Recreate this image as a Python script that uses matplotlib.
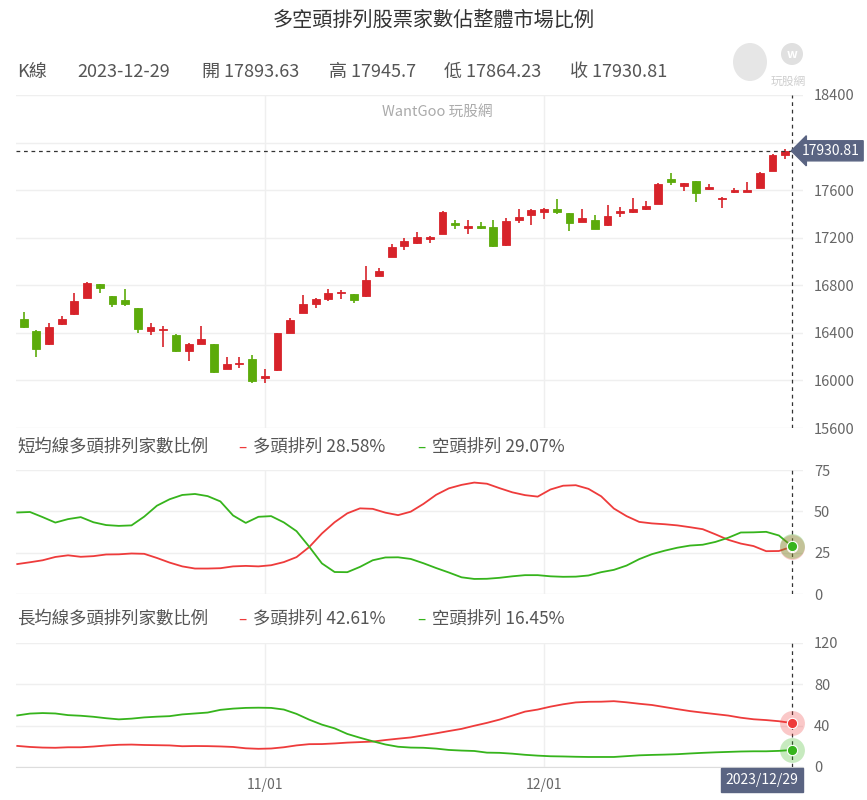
import numpy as np
import matplotlib
matplotlib.use("Agg")
import matplotlib.pyplot as plt
import matplotlib.transforms as mtransforms
from matplotlib.patches import Ellipse

plt.rcParams["font.family"] = ["Noto Sans CJK TC", "DejaVu Sans"]

# ---- data ----
# K線: 2023-10-02 ~ 2023-12-29
opens = [16518, 16417, 16307, 16476, 16558, 16693, 16811, 16706, 16676, 16605,
         16414, 16422, 16385, 16248, 16310, 16304, 16099, 16136, 16178, 16017,
         16087, 16402, 16571, 16642, 16684, 16731, 16726, 16706, 16881, 17039,
         17131, 17153, 17191, 17233, 17326, 17283, 17300, 17289, 17136, 17345,
         17390, 17418, 17444, 17404, 17334, 17353, 17305, 17410, 17415, 17438,
         17486, 17694, 17638, 17677, 17607, 17522, 17587, 17587, 17618, 17765,
         17893.63]
highs = [16574, 16420, 16482, 16543, 16731, 16825, 16815, 16710, 16771, 16610,
         16482, 16461, 16390, 16315, 16461, 16310, 16200, 16200, 16212, 16093,
         16400, 16524, 16718, 16690, 16771, 16763, 16730, 16959, 16946, 17145,
         17199, 17249, 17218, 17427, 17348, 17345, 17334, 17353, 17362, 17444,
         17440, 17446, 17522, 17410, 17438, 17387, 17472, 17457, 17531, 17511,
         17663, 17748, 17663, 17680, 17655, 17540, 17621, 17672, 17752, 17908,
         17945.7]
lows = [16440, 16200, 16300, 16470, 16550, 16690, 16735, 16617, 16622, 16400,
        16380, 16279, 16240, 16161, 16305, 16065, 16095, 16102, 15975, 15975,
        16080, 16400, 16565, 16608, 16670, 16684, 16647, 16700, 16875, 17035,
        17098, 17150, 17159, 17228, 17275, 17233, 17275, 17125, 17130, 17326,
        17311, 17359, 17398, 17255, 17330, 17270, 17300, 17376, 17407, 17435,
        17480, 17643, 17592, 17503, 17600, 17449, 17579, 17585, 17615, 17760,
        17864.23]
closes = [16448, 16267, 16448, 16520, 16667, 16822, 16777, 16642, 16639, 16434,
          16448, 16436, 16245, 16304, 16352, 16073, 16136, 16150, 15997, 16034,
          16397, 16510, 16642, 16684, 16737, 16746, 16676, 16841, 16917, 17123,
          17174, 17204, 17210, 17413, 17309, 17294, 17283, 17131, 17342, 17376,
          17435, 17438, 17418, 17326, 17362, 17275, 17381, 17421, 17444, 17466,
          17655, 17668, 17657, 17575, 17630, 17537, 17604, 17604, 17748, 17894,
          17930.81]

# 短均線多頭/空頭排列家數比例 (%)
short_bull = [18.1, 19.2, 20.4, 22.4, 23.4, 22.5, 22.9, 23.9, 24.0, 24.5,
              24.3, 21.8, 19.0, 16.7, 15.4, 15.4, 15.6, 16.7, 17.0, 16.7,
              17.4, 19.3, 22.3, 28.4, 36.6, 43.4, 48.8, 51.8, 51.5, 49.2,
              47.7, 49.8, 54.5, 60.0, 63.9, 66.0, 67.4, 66.7, 64.0, 61.5,
              59.8, 58.9, 63.2, 65.5, 65.8, 63.6, 59.1, 51.7, 47.1, 43.6,
              42.7, 42.2, 41.5, 40.4, 39.2, 36.1, 32.8, 30.5, 29.0, 25.9,
              26.0, 28.58]
short_bear = [49.3, 49.6, 46.5, 43.2, 45.3, 46.5, 43.4, 41.7, 41.2, 41.5,
              46.8, 53.4, 57.3, 59.9, 60.5, 59.2, 56.0, 47.5, 43.0, 46.7,
              47.1, 43.3, 38.0, 28.6, 18.5, 13.3, 13.2, 16.4, 20.4, 22.1,
              22.2, 21.2, 18.6, 15.7, 13.0, 10.1, 9.1, 9.2, 9.8, 10.7,
              11.4, 11.4, 10.7, 10.4, 10.5, 11.2, 13.2, 14.6, 17.2, 21.1,
              24.1, 26.2, 28.0, 29.3, 29.8, 31.5, 34.0, 37.2, 37.3, 37.6,
              35.4, 29.07]

# 長均線多頭/空頭排列家數比例 (%)
long_bull = [20.4, 19.4, 18.8, 18.6, 19.1, 19.1, 19.8, 20.8, 21.5, 21.7,
             21.3, 21.1, 20.9, 20.1, 20.3, 20.2, 19.9, 19.4, 18.1, 17.6,
             17.9, 19.1, 20.9, 22.1, 22.2, 22.8, 23.6, 24.1, 24.6, 26.1,
             27.4, 28.6, 30.6, 32.6, 34.8, 36.9, 39.9, 42.7, 45.9, 49.7,
             53.6, 55.6, 58.4, 60.7, 62.5, 63.1, 63.2, 63.7, 62.6, 61.2,
             60.0, 58.0, 56.0, 54.1, 52.6, 51.2, 49.8, 47.7, 46.2, 45.4,
             44.3, 42.61]
long_bear = [49.9, 51.7, 52.2, 51.8, 50.2, 49.6, 48.6, 47.2, 46.1, 46.8,
             48.0, 48.7, 49.2, 50.9, 51.8, 52.7, 55.3, 56.5, 57.2, 57.4,
             57.2, 55.6, 51.4, 45.8, 41.0, 37.4, 32.0, 28.3, 24.9, 21.8,
             19.6, 18.8, 18.6, 17.8, 16.5, 15.9, 15.5, 13.9, 13.7, 12.9,
             11.8, 11.0, 10.4, 10.2, 9.9, 9.7, 9.7, 9.7, 10.5, 11.3,
             11.7, 12.0, 12.4, 13.1, 13.7, 14.2, 14.6, 15.0, 15.2, 15.2,
             15.6, 16.45]

month_ticks = [19, 41]
month_labels = ["11/01", "12/01"]
last_date = "2023-12-29"
k_yticks = [15600, 16000, 16400, 16800, 17200, 17600, 18000, 18400]
s_yticks = [0, 25, 50, 75]
l_yticks = [0, 40, 80, 120]

# ---- style ----
UP = "#d7232a"; DOWN = "#5cab0b"
LRED = "#ee3b3b"; LGREEN = "#36b41c"
GRID = "#efefef"; TXT = "#555555"; TAG = "#5a6482"

W, H = 867, 800
fig = plt.figure(figsize=(W / 100, H / 100), dpi=100)
fig.patch.set_facecolor("white")


def px_ax(l, t, r, b):
    return fig.add_axes([l / W, 1 - b / H, (r - l) / W, (b - t) / H])


def fx(x): return x / W
def fy(y): return 1 - y / H


n = len(closes)
xk = np.arange(n)
xl = np.arange(len(short_bull)) - 0.5
xlim = (-0.6, 61.4)
cross_x = xl[-1]

# title + header
fig.text(0.5, fy(20), "多空頭排列股票家數佔整體市場比例", ha="center", va="center",
         fontsize=14.5, color="#333333")
head = [("K線", 17), (last_date, 77), (f"開 {opens[-1]}", 202), (f"高 {highs[-1]}", 329),
        (f"低 {lows[-1]}", 444), (f"收 {closes[-1]}", 570)]
for s, x in head:
    fig.text(fx(x), fy(72), s, ha="left", va="center", fontsize=13, color=TXT)

# logo (rough)
fig.patches.append(Ellipse((fx(750), fy(62)), 34 / W, 38 / H, transform=fig.transFigure,
                           fc="#e6e6e6", ec="none"))
fig.patches.append(Ellipse((fx(792), fy(54)), 22 / W, 22 / H, transform=fig.transFigure,
                           fc="#e0e0e0", ec="none"))
fig.text(fx(792), fy(54), "w", ha="center", va="center", fontsize=9, color="white",
         fontweight="bold")
fig.text(fx(788), fy(81), "玩股網", ha="center", va="center", fontsize=8.5, color="#cfcfcf")


def base_style(ax, yticks, ylim):
    ax.set_xlim(*xlim)
    ax.set_ylim(*ylim)
    for sp in ax.spines.values():
        sp.set_visible(False)
    ax.yaxis.tick_right()
    ax.set_yticks(yticks)
    ax.tick_params(axis="y", length=0, pad=8, labelsize=10.5, labelcolor="#666666")
    ax.set_xticks(month_ticks)
    ax.tick_params(axis="x", length=0)
    ax.set_xticklabels([])
    ax.grid(True, color=GRID, lw=1.0)
    ax.set_axisbelow(True)
    ax.axvline(cross_x, color="#333333", lw=0.9, ls=(0, (3, 3)), zorder=5)


# ---- K panel ----
ax_k = px_ax(16, 95, 803, 428)
base_style(ax_k, k_yticks, (15600, 18400))
ax_k.set_yticklabels(["" if t == 18000 else str(t) for t in k_yticks])
for i in range(n):
    o, h, l, c = opens[i], highs[i], lows[i], closes[i]
    col = UP if c >= o else DOWN
    ax_k.vlines(xk[i], l, h, color=col, lw=1.2, zorder=3)
    ax_k.bar(xk[i], max(abs(c - o), 12), bottom=min(o, c), width=0.62, color=col,
             edgecolor=col, lw=0.6, zorder=4)
ax_k.axhline(closes[-1], color="#333333", lw=0.9, ls=(0, (3, 3)), zorder=5)
ax_k.text(0.535, 0.95, "WantGoo 玩股網", transform=ax_k.transAxes, ha="center",
          va="center", fontsize=10.5, color="#aaaaaa")
trans = mtransforms.blended_transform_factory(ax_k.transAxes, ax_k.transData)
ax_k.text(0.999, closes[-1], f"{closes[-1]:.2f}", transform=trans, ha="left", va="center",
          fontsize=10, color="white", zorder=10, clip_on=False,
          bbox=dict(boxstyle="larrow,pad=0.22", fc=TAG, ec=TAG))

# ---- short MA panel ----
ax_s = px_ax(16, 470, 803, 594)
base_style(ax_s, s_yticks, (0, 75))
ax_s.plot(xl, short_bull, color=LRED, lw=1.3, zorder=3)
ax_s.plot(xl, short_bear, color=LGREEN, lw=1.3, zorder=3)

# ---- long MA panel ----
ax_l = px_ax(16, 643, 803, 767)
base_style(ax_l, l_yticks, (0, 120))
ax_l.plot(xl, long_bull, color=LRED, lw=1.3, zorder=3)
ax_l.plot(xl, long_bear, color=LGREEN, lw=1.3, zorder=3)
ax_l.set_xticklabels(month_labels)
ax_l.tick_params(axis="x", labelsize=10, labelcolor="#666666", pad=8)
ax_l.spines["bottom"].set_visible(True)
ax_l.spines["bottom"].set_color("#dddddd")

for ax, bull, bear in [(ax_s, short_bull, short_bear), (ax_l, long_bull, long_bear)]:
    for vals, col in [(bull, LRED), (bear, LGREEN)]:
        ax.scatter([xl[-1]], [vals[-1]], s=320, color=col, alpha=0.28, lw=0,
                   zorder=6, clip_on=False)
    for vals, col in [(bull, LRED), (bear, LGREEN)]:
        ax.scatter([xl[-1]], [vals[-1]], s=55, color=col, edgecolor="white", lw=0.8,
                   zorder=7, clip_on=False)

# panel titles with legend
for y, title, bull, bear in [(447, "短均線多頭排列家數比例", short_bull, short_bear),
                             (619, "長均線多頭排列家數比例", long_bull, long_bear)]:
    fig.text(fx(17), fy(y), title, ha="left", va="center", fontsize=12.5, color=TXT)
    fig.text(fx(242), fy(y), "–", ha="center", va="center", fontsize=11, color=LRED)
    fig.text(fx(253), fy(y), f"多頭排列 {bull[-1]:.2f}%", ha="left", va="center",
             fontsize=12.5, color=TXT)
    fig.text(fx(421), fy(y), "–", ha="center", va="center", fontsize=11, color=LGREEN)
    fig.text(fx(432), fy(y), f"空頭排列 {bear[-1]:.2f}%", ha="left", va="center",
             fontsize=12.5, color=TXT)

# date tag under crosshair
fig.text(fx(762), fy(780), last_date.replace("-", "/"), ha="center", va="center",
         fontsize=10, color="white", zorder=10,
         bbox=dict(boxstyle="square,pad=0.35", fc=TAG, ec=TAG))

fig.savefig("out.png", dpi=100, facecolor="white")
